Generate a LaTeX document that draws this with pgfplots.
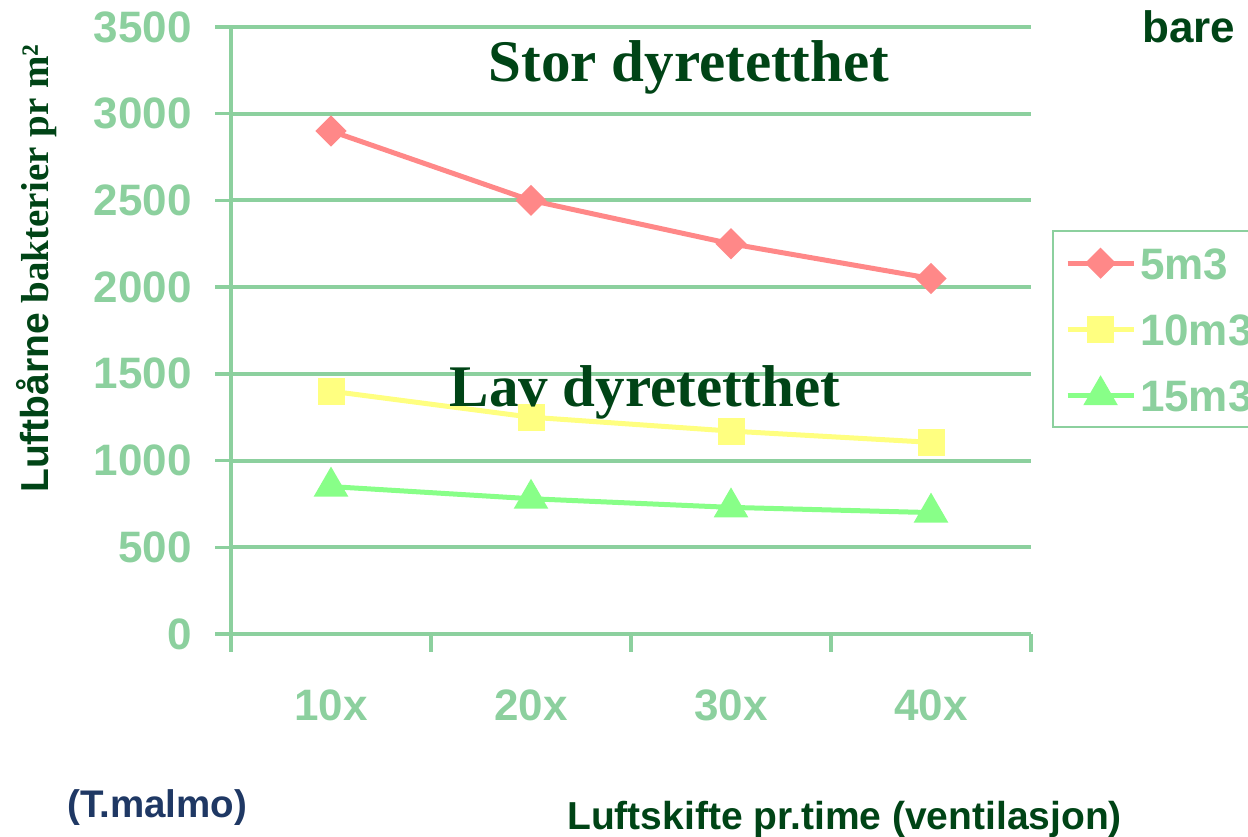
\documentclass[border=0pt]{standalone}
\usepackage{pgfplots}
\pgfplotsset{compat=1.18}
\usepackage{fontspec}
\setmainfont{Liberation Sans}
\newfontfamily\serif{Liberation Serif}
\definecolor{lg}{RGB}{140,208,158}
\definecolor{dg}{RGB}{0,68,22}
\definecolor{navy}{RGB}{31,56,100}
\definecolor{sred}{RGB}{255,136,136}
\definecolor{syel}{RGB}{255,255,128}
\definecolor{sgrn}{RGB}{136,255,136}
\begin{document}
\begin{tikzpicture}[x=1pt,y=1pt]
\useasboundingbox (0,0) rectangle (1248,837);
\clip (0,0) rectangle (1248,837);
\begin{axis}[
  at={(231pt,203pt)}, anchor=south west,
  scale only axis, width=800pt, height=607pt,
  xmin=-0.5, xmax=3.5, ymin=0, ymax=3500,
  axis lines=left,
  axis line style={-, lg, line width=4pt},
  xtick={0,1,2,3}, xticklabels={10x,20x,30x,40x},
  minor xtick={-0.5,0.5,1.5,2.5,3.5},
  ytick={0,500,...,3500},
  major x tick style={draw=none},
  tick align=outside,
  major tick length=16pt, minor tick length=18pt,
  tick style={lg, line width=3.5pt},
  ymajorgrids, grid style={lg, line width=4pt},
  /pgf/number format/assume math mode=true,
  /pgf/number format/1000 sep={},
  ticklabel style={font=\fontsize{44}{50}\selectfont\bfseries, text=lg},
  yticklabel style={anchor=east, inner sep=0pt, xshift=-23pt},
  xticklabel style={anchor=north, inner sep=0pt, yshift=-40pt},
  legend style={at={(1.026,0.6656)}, anchor=north west, draw=lg, line width=2.5pt,
    font=\fontsize{44}{50}\selectfont\bfseries, text=lg, inner sep=12pt,
    row sep=26pt, nodes={text height=32pt, text depth=0pt, inner sep=4pt}},
  legend cell align=left,
  legend image code/.code={\draw[mark repeat=2,mark phase=2] plot coordinates {(0pt,0pt) (33pt,0pt) (66pt,0pt)};},
]
\addplot[sred, line width=5pt, mark=square*, mark size=8.5pt,
  mark options={rotate=45, fill=sred, draw=none, solid}]
  coordinates {(0,2900) (1,2500) (2,2250) (3,2050)};
\addlegendentry{5m3}
\addplot[syel, line width=5pt, mark=square*, mark size=11pt,
  mark options={fill=syel, draw=none, solid}]
  coordinates {(0,1400) (1,1250) (2,1170) (3,1105)};
\addlegendentry{10m3}
\addplot[sgrn, line width=5pt, mark=triangle*, mark size=15pt,
  mark options={fill=sgrn, draw=none, solid}]
  coordinates {(0,850) (1,780) (2,730) (3,700)};
\addlegendentry{15m3}
\end{axis}
\node[anchor=base, text=dg, font=\serif\fontsize{59}{60}\selectfont\bfseries, inner sep=0pt] at (689,755) {Stor dyretetthet};
\node[anchor=base, text=dg, font=\serif\fontsize{59}{60}\selectfont\bfseries, inner sep=0pt] at (645,430) {Lav dyretetthet};
\node[anchor=base west, text=dg, font=\fontsize{44}{50}\selectfont\bfseries, inner sep=0pt] at (1142,794) {bare (};
\node[anchor=base west, text=navy, font=\fontsize{38.5}{40}\selectfont\bfseries, inner sep=0pt] at (67,19) {(T.malmo)};
\node[anchor=base west, text=dg, font=\fontsize{39}{40}\selectfont\bfseries, inner sep=0pt] at (567,7) {Luftskifte pr.time (ventilasjon)};
\node[anchor=base west, rotate=90, text=dg, font=\fontsize{39}{42}\selectfont\bfseries, inner sep=0pt] at (48,344) {Luftbårne{\serif\ bakterier pr m²}};
\end{tikzpicture}
\end{document}
